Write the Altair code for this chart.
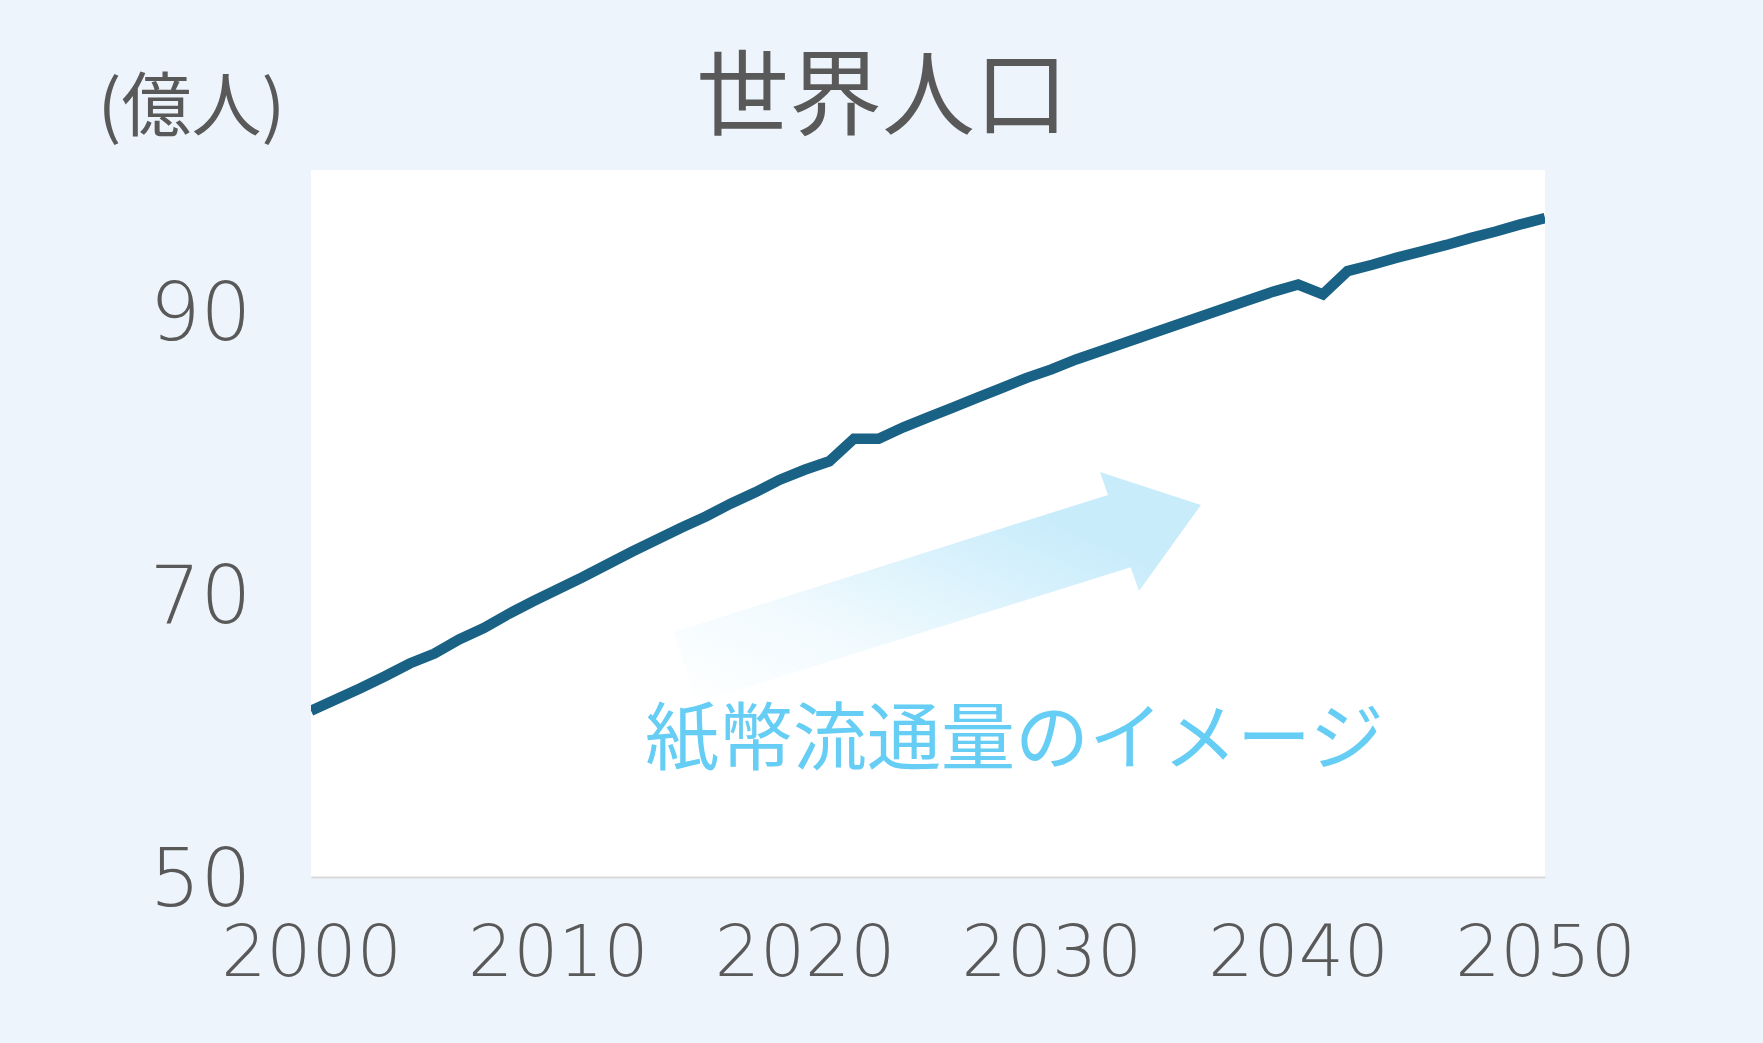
import altair as alt
import pandas as pd

# ---- data ----
years = list(range(2000, 2051))
population = [61.76, 62.55, 63.35, 64.2, 65.1, 65.8, 66.8, 67.6, 68.6, 69.5,
              70.35, 71.2, 72.1, 73.0, 73.85, 74.7, 75.5, 76.4, 77.2, 78.1,
              78.8, 79.4, 81.0, 81.0, 81.8, 82.5, 83.2, 83.9, 84.6, 85.3,
              85.9, 86.6, 87.2, 87.8, 88.4, 89.0, 89.6, 90.2, 90.8, 91.4,
              91.9, 91.2, 92.85, 93.3, 93.8, 94.25, 94.7, 95.2, 95.65, 96.15, 96.6]

x_ticks = [2000, 2010, 2020, 2030, 2040, 2050]
y_ticks = [50, 70, 90]

# decorative arrow outline (data coordinates)
arrow_year = [2014.71, 2032.29, 2031.97, 2036.06, 2033.55, 2033.21, 2015.64, 2014.71]
arrow_value = [67.33, 77.02, 78.64, 76.31, 70.23, 71.90, 62.31, 67.33]

note_text = ["紙幣流通量のイメージ"]
note_year = [2028.5]
note_value = [58.0]

pop_df = pd.DataFrame({"year": years, "value": population})
arrow_df = pd.DataFrame({"year": arrow_year, "value": arrow_value,
                         "i": list(range(len(arrow_year)))})
note_df = pd.DataFrame({"year": note_year, "value": note_value, "text": note_text})

GRAY = "#595959"

x_enc = alt.X("year:Q",
              scale=alt.Scale(domain=[2000, 2050], nice=False, zero=False),
              axis=alt.Axis(values=x_ticks, format="d", grid=False, ticks=False,
                            domain=True, domainColor="#d9d9d9", domainWidth=2,
                            labelFont="DejaVu Sans", labelFontSize=71,
                            labelFontWeight=300, labelLimit=0,
                            labelColor=GRAY, labelPadding=42,
                            labelFlush=False, labelOverlap=False),
              title=None)
y_enc = alt.Y("value:Q",
              scale=alt.Scale(domain=[50, 100], nice=False, zero=False),
              axis=alt.Axis(values=y_ticks, grid=False, ticks=False, domain=False,
                            labelFont="DejaVu Sans", labelFontSize=80,
                            labelFontWeight=300, labelLimit=0,
                            labelColor=GRAY, labelPadding=60, labelOffset=4,
                            labelOverlap=False,
                            titleAngle=0, titleX=-120, titleY=-40,
                            titleAlign="center", titleBaseline="alphabetic",
                            titleFont="Noto Sans CJK JP", titleFontSize=70,
                            titleFontWeight="normal", titleColor=GRAY),
              title="(億人)")

arrow = alt.Chart(arrow_df).mark_line(
    filled=True,
    strokeOpacity=0,
    fill=alt.Gradient(
        gradient="linear", x1=0, y1=1, x2=1, y2=0,
        stops=[alt.GradientStop(color="rgba(201,236,251,0)", offset=0),
               alt.GradientStop(color="rgba(201,236,251,0.25)", offset=0.3),
               alt.GradientStop(color="#c9ecfb", offset=0.75),
               alt.GradientStop(color="#c9ecfb", offset=1)]),
).encode(x=x_enc, y=y_enc, order=alt.Order("i:Q"))

note = alt.Chart(note_df).mark_text(
    font="Noto Sans CJK JP", fontSize=74, color="#66cdf5",
    align="center", baseline="alphabetic"
).encode(x=x_enc, y=y_enc, text="text:N")

line = alt.Chart(pop_df).mark_line(
    color="#1a6285", strokeWidth=10.5, strokeJoin="miter", clip=True
).encode(x=x_enc, y=y_enc)

chart = alt.layer(arrow, note, line).properties(
    width=1234, height=707,
    padding={"left": 311, "top": 170, "right": 218, "bottom": 166},
    autosize=alt.AutoSizeParams(type="none"),
    background="#eef4fb",
    title=alt.TitleParams("世界人口", font="Noto Sans CJK JP", fontSize=93,
                          color=GRAY, fontWeight="normal", anchor="middle",
                          frame="group", dx=-46, baseline="alphabetic",
                          offset=-147),
).configure_view(fill="white", strokeWidth=0)

chart.save("out.html", embed_options={"renderer": "svg", "actions": False})
